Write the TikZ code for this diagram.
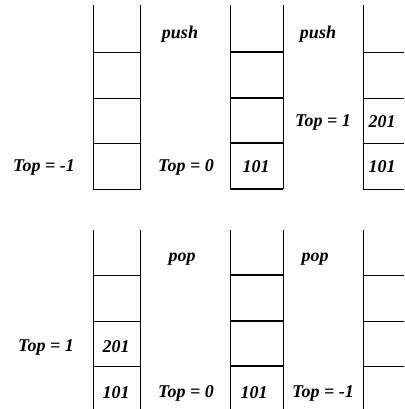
\documentclass[tikz,border=0pt]{standalone}
\usepackage{fontspec}
\setmainfont{Liberation Serif}
\def\lbl{\node[font=\fontsize{18}{20}\selectfont\bfseries\itshape]}

\begin{document}
\begin{tikzpicture}[x=1pt,y=-1pt,line width=0.8pt]
\useasboundingbox (0,0) rectangle (404,409);
% push row
\draw (93,5) -- (93,189) -- (140,189) -- (140,5);
\draw (93,52) -- (140,52) (93,98) -- (140,98) (93,143) -- (140,143);
\draw (230,5) -- (230,189) (283,5) -- (283,189);
\draw[line width=1.6pt] (230,52) -- (283,52) (230,98) -- (283,98) (230,143) -- (283,143) (230,189) -- (283,189);
\draw (363,5) -- (363,189);
\draw (363,52) -- (404,52) (363,98) -- (404,98) (363,143) -- (404,143) (363,189) -- (404,189);
\lbl (push1) at (180,34) {push};
\lbl (push2) at (318,34) {push};
\lbl (topa) at (44,167) {Top = -1};
\lbl (topb) at (186,167) {Top = 0};
\lbl (vala) at (256,167) {101};
\lbl (topc) at (323,122) {Top = 1};
\lbl (valb) at (382,122) {201};
\lbl (valc) at (382,167) {101};
% pop row
\draw (93,230) -- (93,409) (140,230) -- (140,409);
\draw (93,275) -- (140,275) (93,321) -- (140,321) (93,366) -- (140,366);
\draw (230,230) -- (230,409) (283,230) -- (283,409);
\draw[line width=1.6pt] (230,275) -- (283,275) (230,321) -- (283,321) (230,366) -- (283,366);
\draw (363,230) -- (363,409);
\draw (363,275) -- (404,275) (363,321) -- (404,321) (363,366) -- (404,366);
\lbl (pop1) at (182,259) {pop};
\lbl (pop2) at (315,259) {pop};
\lbl (topd) at (46,347) {Top = 1};
\lbl (vald) at (116,347) {201};
\lbl (vale) at (116,393) {101};
\lbl (tope) at (186,393) {Top = 0};
\lbl (valf) at (254,393) {101};
\lbl (topf) at (323,393) {Top = -1};
\end{tikzpicture}
\end{document}
